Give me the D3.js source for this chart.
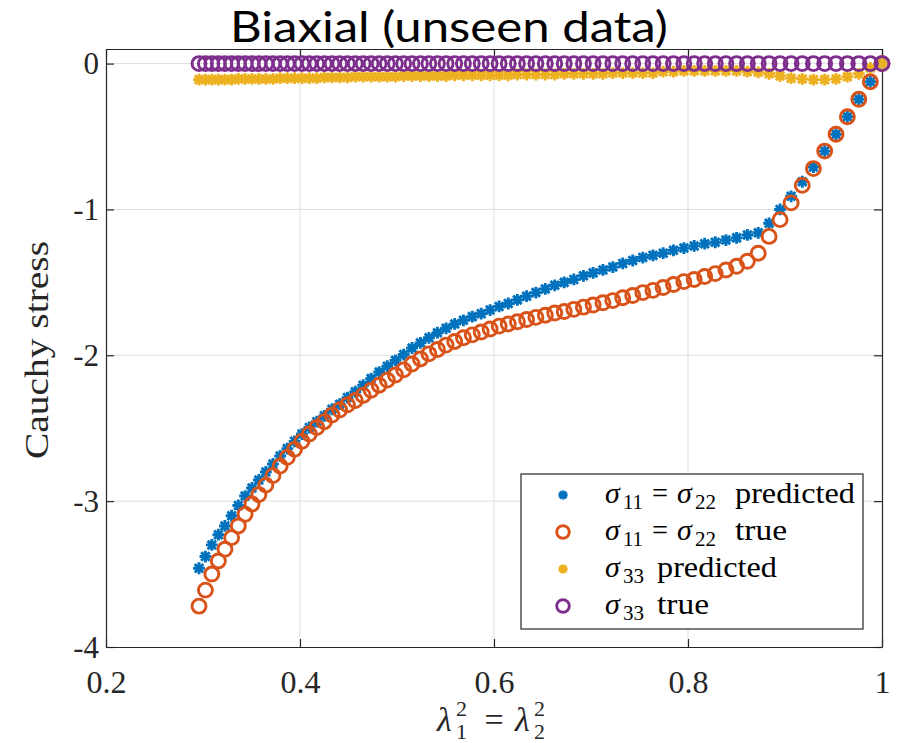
<!DOCTYPE html>
<html><head><meta charset="utf-8">
<script src="https://cdn.jsdelivr.net/npm/d3@7"></script>
<style>body{margin:0;background:#fff}svg{display:block}</style>
</head><body><svg id="c" width="904" height="743"></svg>
<script>
// ---- data ----
const lambdaSq = [0.2959,0.3025,0.3091,0.3158,0.3226,0.3295,0.3364,0.3434,0.3505,0.3576,
0.3648,0.3721,0.3795,0.3869,0.3944,0.4020,0.4096,0.4173,0.4251,0.4330,
0.4409,0.4489,0.4570,0.4651,0.4733,0.4816,0.4900,0.4984,0.5069,0.5155,
0.5242,0.5329,0.5417,0.5506,0.5595,0.5685,0.5776,0.5868,0.5960,0.6053,
0.6147,0.6241,0.6336,0.6432,0.6529,0.6626,0.6724,0.6823,0.6922,0.7022,
0.7123,0.7225,0.7327,0.7430,0.7534,0.7639,0.7744,0.7850,0.7957,0.8064,
0.8172,0.8281,0.8391,0.8501,0.8612,0.8724,0.8836,0.8949,0.9063,0.9178,
0.9293,0.9409,0.9526,0.9643,0.9761,0.9880,1.0000];

const sigma11Pred = [-3.46,-3.38,-3.30,-3.23,-3.17,-3.10,-3.03,-2.965,-2.91,-2.855,
-2.80,-2.745,-2.69,-2.64,-2.59,-2.54,-2.495,-2.455,-2.415,-2.37,
-2.335,-2.29,-2.25,-2.205,-2.16,-2.115,-2.075,-2.035,-1.995,-1.95,
-1.915,-1.88,-1.845,-1.815,-1.785,-1.76,-1.735,-1.715,-1.69,-1.665,
-1.645,-1.62,-1.595,-1.57,-1.545,-1.52,-1.50,-1.48,-1.455,-1.435,
-1.415,-1.395,-1.37,-1.35,-1.33,-1.315,-1.30,-1.28,-1.265,-1.25,
-1.235,-1.225,-1.21,-1.195,-1.175,-1.16,-1.095,-1.00,-0.91,-0.81,
-0.71,-0.60,-0.485,-0.365,-0.245,-0.125,0];

const sigma11True = [-3.72,-3.61,-3.50,-3.41,-3.33,-3.25,-3.17,-3.09,-3.02,-2.955,
-2.89,-2.825,-2.76,-2.70,-2.645,-2.59,-2.54,-2.495,-2.455,-2.41,
-2.375,-2.34,-2.31,-2.275,-2.24,-2.205,-2.17,-2.135,-2.10,-2.06,
-2.025,-1.99,-1.96,-1.93,-1.905,-1.88,-1.86,-1.84,-1.82,-1.80,
-1.785,-1.77,-1.755,-1.74,-1.725,-1.71,-1.70,-1.685,-1.67,-1.655,
-1.64,-1.625,-1.605,-1.59,-1.57,-1.555,-1.535,-1.515,-1.495,-1.48,
-1.46,-1.44,-1.415,-1.39,-1.355,-1.30,-1.185,-1.07,-0.955,-0.835,
-0.72,-0.60,-0.485,-0.365,-0.245,-0.125,0];

const sigma33Pred = [-0.11,-0.11,-0.11,-0.11,-0.11,-0.11,-0.105,-0.105,-0.105,-0.105,
-0.105,-0.105,-0.10,-0.10,-0.10,-0.10,-0.10,-0.10,-0.095,-0.095,
-0.095,-0.095,-0.09,-0.09,-0.09,-0.09,-0.09,-0.09,-0.085,-0.085,
-0.085,-0.085,-0.085,-0.085,-0.08,-0.08,-0.08,-0.08,-0.08,-0.08,
-0.08,-0.075,-0.075,-0.075,-0.075,-0.075,-0.07,-0.07,-0.07,-0.07,
-0.07,-0.065,-0.065,-0.065,-0.065,-0.065,-0.055,-0.055,-0.05,-0.05,
-0.05,-0.05,-0.05,-0.05,-0.055,-0.06,-0.07,-0.085,-0.10,-0.105,
-0.11,-0.11,-0.105,-0.09,-0.07,-0.03,0];

const sigma33True = [0,0,0,0,0,0,0,0,0,0, 0,0,0,0,0,0,0,0,0,0,
0,0,0,0,0,0,0,0,0,0, 0,0,0,0,0,0,0,0,0,0,
0,0,0,0,0,0,0,0,0,0, 0,0,0,0,0,0,0,0,0,0,
0,0,0,0,0,0,0,0,0,0, 0,0,0,0,0,0,0];

const xTicks = [0.2, 0.4, 0.6, 0.8, 1];
const xTickLabels = ["0.2", "0.4", "0.6", "0.8", "1"];
const yTicks = [-4, -3, -2, -1, 0];
const yTickLabels = ["-4", "-3", "-2", "-1", "0"];
const seriesColors = ["#0072BD", "#D95319", "#EDB120", "#7E2F8E"];

// ---- drawing ----
const svg = d3.select("#c");
const serif = "'Liberation Serif','Times New Roman',serif";
const axisCol = "#262626";
const L = 106, R = 882, T = 49, B = 647;
const x = d3.scaleLinear().domain([0.2, 1]).range([L, R]);
const y = d3.scaleLinear().domain([-4, 0.1]).range([B, T]);

svg.append("rect").attr("width", 904).attr("height", 743).attr("fill", "#fff");

// grid
const grid = svg.append("g").attr("stroke", "#dfdfdf").attr("stroke-width", 1);
xTicks.forEach(v => { if (v > 0.2 && v < 1) grid.append("line").attr("x1", x(v)).attr("x2", x(v)).attr("y1", T).attr("y2", B); });
yTicks.forEach(v => { if (v > -4) grid.append("line").attr("x1", L).attr("x2", R).attr("y1", y(v)).attr("y2", y(v)); });

// axes
const tl = 8;
const gx = svg.append("g").attr("transform", `translate(0,${B})`)
  .call(d3.axisBottom(x).tickValues(xTicks).tickSizeInner(-tl).tickSizeOuter(0).tickPadding(30)
    .tickFormat((d, i) => xTickLabels[i]));
const gxt = svg.append("g").attr("transform", `translate(0,${T})`)
  .call(d3.axisTop(x).tickValues(xTicks).tickSizeInner(-tl).tickSizeOuter(0).tickFormat(""));
const gy = svg.append("g").attr("transform", `translate(${L},0)`)
  .call(d3.axisLeft(y).tickValues(yTicks).tickSizeInner(-tl).tickSizeOuter(0).tickPadding(7)
    .tickFormat((d, i) => yTickLabels[i]));
const gyr = svg.append("g").attr("transform", `translate(${R},0)`)
  .call(d3.axisRight(y).tickValues(yTicks).tickSizeInner(-tl).tickSizeOuter(0).tickFormat(""));
[gx, gxt, gy, gyr].forEach(g => {
  g.select(".domain").attr("stroke", axisCol).attr("stroke-width", 1.2);
  g.selectAll(".tick line").attr("stroke", axisCol).attr("stroke-width", 1.2);
  g.selectAll("text").attr("fill", "#262626").attr("font-family", serif);
});
gx.selectAll("text").attr("font-size", 32).attr("dy", "0.5em");
gy.selectAll("text").attr("font-size", 31).attr("dy", "0.33em");

// markers
const starPath = s => { const d = s * 0.72; return `M${-s},0H${s}M0,${-s}V${s}M${-d},${-d}L${d},${d}M${-d},${d}L${d},${-d}`; };
const pts = lambdaSq.map((v, i) => i);
const plot = svg.append("g");
function stars(vals, col, s) {
  plot.append("g").selectAll("path").data(pts).join("path")
    .attr("transform", i => `translate(${x(lambdaSq[i])},${y(vals[i])})`)
    .attr("d", starPath(s)).attr("stroke", col).attr("stroke-width", 2.9).attr("fill", "none");
}
function circles(vals, col, r) {
  plot.append("g").selectAll("circle").data(pts).join("circle")
    .attr("cx", i => x(lambdaSq[i])).attr("cy", i => y(vals[i])).attr("r", r)
    .attr("fill", "none").attr("stroke", col).attr("stroke-width", 2.9);
}
stars(sigma11Pred, seriesColors[0], 5.9);
circles(sigma11True, seriesColors[1], 7.0);
stars(sigma33Pred, seriesColors[2], 5.9);
circles(sigma33True, seriesColors[3], 7.0);

// title
svg.append("text").attr("x", 449).attr("y", 42).attr("text-anchor", "middle")
  .attr("font-family", "Lato,'Noto Sans',sans-serif").attr("font-size", 42)
  .attr("textLength", 438).attr("lengthAdjust", "spacingAndGlyphs")
  .attr("fill", "#000").text("Biaxial (unseen data)");

// y label
svg.append("text").attr("transform", "translate(48,350) rotate(-90)").attr("text-anchor", "middle")
  .attr("font-family", serif).attr("font-size", 33).attr("fill", "#262626")
  .attr("textLength", 218).attr("lengthAdjust", "spacingAndGlyphs").text("Cauchy stress");

// x label  λ1^2 = λ2^2
const xl = svg.append("g").attr("font-family", serif).attr("fill", "#262626");
function lam(x0, sub) {
  xl.append("text").attr("x", x0).attr("y", 731).attr("font-size", 34).attr("font-style", "italic").text("λ");
  xl.append("text").attr("x", x0 + 19).attr("y", 716).attr("font-size", 22).text("2");
  xl.append("text").attr("x", x0 + 19).attr("y", 739).attr("font-size", 22).text(sub);
}
lam(437, "1");
xl.append("text").attr("x", 494).attr("y", 731).attr("text-anchor", "middle").attr("font-size", 34).text("=");
lam(515, "2");

// legend
const lg = svg.append("g");
lg.append("rect").attr("x", 521).attr("y", 474).attr("width", 342).attr("height", 155)
  .attr("fill", "#fff").attr("stroke", axisCol).attr("stroke-width", 1.2);
const rows = [495, 532, 569, 606];
// pieces: [text, x, style, width]
const legendPieces = [
  [["σ",605,"i"],["11",623,"s",20],["=",652,"n",16],["σ",677,"i"],["22",695,"s",21],["predicted",735,"n",120]],
  [["σ",605,"i"],["11",623,"s",20],["=",652,"n",16],["σ",677,"i"],["22",695,"s",21],["true",735,"n",52]],
  [["σ",605,"i"],["33",623,"s",21],["predicted",657,"n",120]],
  [["σ",605,"i"],["33",623,"s",21],["true",657,"n",52]]
];
rows.forEach((ry, k) => {
  if (k % 2 === 0) {
    lg.append("path").attr("transform", `translate(563,${ry})`).attr("d", starPath(4.6))
      .attr("stroke", seriesColors[k]).attr("stroke-width", 2.9).attr("fill", "none");
  } else {
    lg.append("circle").attr("cx", 563).attr("cy", ry).attr("r", 6.3)
      .attr("fill", "none").attr("stroke", seriesColors[k]).attr("stroke-width", 2.9);
  }
  legendPieces[k].forEach(([s, px, st, w]) => {
    const t = lg.append("text").attr("x", px).attr("font-family", serif).attr("fill", "#000").text(s);
    if (st === "i") t.attr("y", ry + 8).attr("font-size", 30).attr("font-style", "italic");
    else if (st === "s") t.attr("y", ry + 14).attr("font-size", 21);
    else t.attr("y", ry + 8).attr("font-size", 30);
    if (w) t.attr("textLength", w).attr("lengthAdjust", "spacingAndGlyphs");
  });
});
</script>
</body></html>
